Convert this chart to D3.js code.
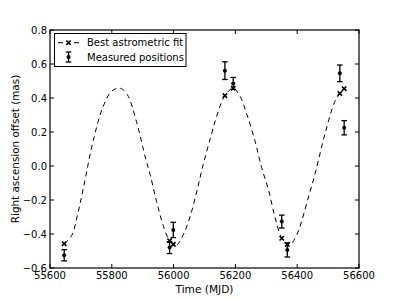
<!DOCTYPE html>
<html>
<head>
<meta charset="utf-8">
<script src="https://cdn.jsdelivr.net/npm/d3@7"></script>
<style>
  html, body { margin: 0; padding: 0; background: #fff; }
  svg { display: block; }
  text { font-family: "DejaVu Sans", sans-serif; fill: #000; }
</style>
</head>
<body>
<svg id="chart" width="399" height="299"></svg>
<script>
// Model curve (MJD, offset in mas)
const curveMJD = [55646,55670,55690,55708,55740,55772,55800,55826,55850,55880,55910,55924,55945,55970,55987,56000,56010,56030,56053,56075,56096,56120,56139,56166,56193,56215,56236,56263,56285,56307,56328,56350,56368,56380,56400,56415,56440,56458,56490,56522,56538,56552];
const curveRA  = [-0.457,-0.41,-0.28,-0.13,0.15,0.35,0.44,0.458,0.42,0.26,0.04,-0.05,-0.21,-0.37,-0.44,-0.462,-0.465,-0.41,-0.30,-0.15,0.01,0.17,0.29,0.414,0.457,0.41,0.31,0.15,-0.01,-0.14,-0.30,-0.425,-0.461,-0.458,-0.40,-0.32,-0.16,-0.045,0.19,0.38,0.427,0.455];

// Model evaluated at the epochs of observation
const fitMJD = [55646,55987,55999,56166,56193,56350,56368,56538,56552];
const fitRA  = [-0.457,-0.44,-0.461,0.414,0.457,-0.425,-0.461,0.427,0.455];

// Measured positions
const obsMJD = [55646,55987,55999,56166,56193,56350,56368,56538,56552];
const obsRA  = [-0.525,-0.48,-0.376,0.561,0.486,-0.327,-0.494,0.545,0.225];
const obsErr = [0.033,0.035,0.045,0.052,0.035,0.038,0.041,0.049,0.042];

const xTicks = [55600,55800,56000,56200,56400,56600];
const yTicks = [-0.6,-0.4,-0.2,0.0,0.2,0.4,0.6,0.8];
const legendLabels = ["Best astrometric fit","Measured positions"];

const svg = d3.select("#chart");
const L = 50, R = 359, T = 30, B = 268;
const x = d3.scaleLinear().domain([55600,56600]).range([L,R]);
const y = d3.scaleLinear().domain([-0.6,0.8]).range([B,T]);
const fmtY = v => d3.format(".1f")(v).replace("-", "\u2212");

// dashed model curve
const line = d3.line().x(d => x(d[0])).y(d => y(d[1])).curve(d3.curveCatmullRom);
svg.append("path")
  .datum(curveMJD.map((m,i) => [m, curveRA[i]]))
  .attr("d", line)
  .attr("fill","none").attr("stroke","#000").attr("stroke-width",1)
  .attr("stroke-dasharray","5,4");

// fit markers (x)
function xMarker(g, cx, cy, s) {
  g.append("path")
    .attr("d", `M${cx-s},${cy-s}L${cx+s},${cy+s}M${cx-s},${cy+s}L${cx+s},${cy-s}`)
    .attr("stroke","#000").attr("stroke-width",1.6).attr("fill","none");
}
const fitG = svg.append("g");
fitMJD.forEach((m,i) => xMarker(fitG, x(m), y(fitRA[i]), 2.2));

// error bars
function errBar(g, cx, cy, yLo, yHi) {
  g.append("line").attr("x1",cx).attr("x2",cx).attr("y1",yLo).attr("y2",yHi)
    .attr("stroke","#000").attr("stroke-width",1.3);
  [yLo,yHi].forEach(yy => g.append("line").attr("x1",cx-2.8).attr("x2",cx+2.8)
    .attr("y1",yy).attr("y2",yy).attr("stroke","#000").attr("stroke-width",1.3));
  g.append("circle").attr("cx",cx).attr("cy",cy).attr("r",2).attr("fill","#000");
}
const obsG = svg.append("g");
obsMJD.forEach((m,i) => errBar(obsG, x(m), y(obsRA[i]), y(obsRA[i]-obsErr[i]), y(obsRA[i]+obsErr[i])));

// frame
svg.append("rect").attr("x",L).attr("y",T).attr("width",R-L).attr("height",B-T)
  .attr("fill","none").attr("stroke","#000").attr("stroke-width",1.2);

// ticks (inward, all four sides)
const tl = 4;
const tg = svg.append("g").attr("stroke","#000").attr("stroke-width",1);
xTicks.forEach(t => {
  tg.append("line").attr("x1",x(t)).attr("x2",x(t)).attr("y1",B).attr("y2",B-tl);
  tg.append("line").attr("x1",x(t)).attr("x2",x(t)).attr("y1",T).attr("y2",T+tl);
});
yTicks.forEach(t => {
  tg.append("line").attr("x1",L).attr("x2",L+tl).attr("y1",y(t)).attr("y2",y(t));
  tg.append("line").attr("x1",R).attr("x2",R-tl).attr("y1",y(t)).attr("y2",y(t));
});

// tick labels
const fs = 10;
xTicks.forEach(t => svg.append("text").attr("x",x(t)).attr("y",B+11)
  .attr("text-anchor","middle").attr("font-size",fs).text(d3.format("d")(t)));
yTicks.forEach(t => svg.append("text").attr("x",L-3).attr("y",y(t)+3.5)
  .attr("text-anchor","end").attr("font-size",fs).text(fmtY(t)));

// axis labels
svg.append("text").attr("x",(L+R)/2).attr("y",293).attr("text-anchor","middle")
  .attr("font-size",10.6).text("Time (MJD)");
svg.append("text").attr("transform",`translate(19,${(T+B)/2}) rotate(-90)`)
  .attr("text-anchor","middle").attr("font-size",10.4).text("Right ascension offset (mas)");

// legend
const lg = svg.append("g");
lg.append("rect").attr("x",54.5).attr("y",33.5).attr("width",131.5).attr("height",33)
  .attr("fill","#fff").attr("stroke","#000").attr("stroke-width",1);
[[58,63],[74,79]].forEach(s => lg.append("line").attr("x1",s[0]).attr("x2",s[1])
  .attr("y1",42.7).attr("y2",42.7).attr("stroke","#000").attr("stroke-width",1));
xMarker(lg, 68.5, 42.7, 2.2);
errBar(lg, 68.5, 57, 62, 52);
lg.append("text").attr("x",87).attr("y",46.3).attr("font-size",fs).text(legendLabels[0]);
lg.append("text").attr("x",87).attr("y",60.5).attr("font-size",fs).text(legendLabels[1]);
</script>
</body>
</html>
